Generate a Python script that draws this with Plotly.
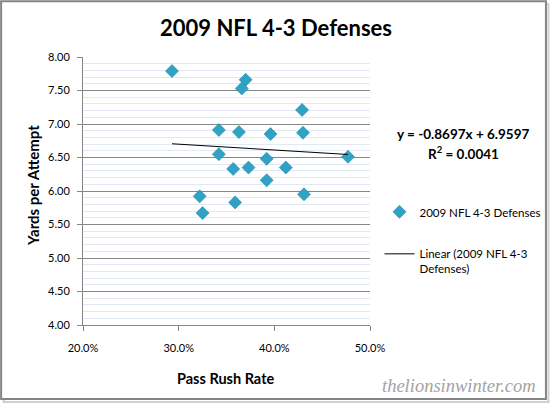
import plotly.graph_objects as go

# Data
pass_rush_rate = [0.293, 0.370, 0.366, 0.429, 0.342, 0.363, 0.396, 0.430, 0.477, 0.342,
                  0.357, 0.373, 0.392, 0.412, 0.392, 0.431, 0.322, 0.325, 0.359]
yards_per_attempt = [7.79, 7.66, 7.53, 7.21, 6.91, 6.88, 6.85, 6.87, 6.51, 6.55,
                     6.33, 6.35, 6.48, 6.35, 6.16, 5.95, 5.92, 5.67, 5.83]
trend_slope = -0.8697
trend_intercept = 6.9597
r_squared = 0.0041
x_tickvals = [0.2, 0.3, 0.4, 0.5]
y_tickvals = [4.0, 4.5, 5.0, 5.5, 6.0, 6.5, 7.0, 7.5, 8.0]

FONT = "Lato"
W, H = 550, 404
L, R, T, B = 83.4, 179.5, 57.3, 79.0
PW, PH = W - L - R, H - T - B

def px_x(p):
    return (p - L) / PW

def px_y(p):
    return (H - B - p) / PH

trend_x = [min(pass_rush_rate), max(pass_rush_rate)]
trend_y = [trend_slope * v + trend_intercept for v in trend_x]

fig = go.Figure()
fig.add_trace(go.Scatter(
    x=pass_rush_rate, y=yards_per_attempt, mode="markers",
    name="2009 NFL 4-3 Defenses", legendgroup="a",
    marker=dict(symbol="diamond", size=10, color="#2fa3c5",
                line=dict(width=0.6, color="#2785a6")),
))
fig.add_trace(go.Scatter(
    x=trend_x, y=trend_y, mode="lines",
    name="Linear (2009 NFL 4-3<br>Defenses)", legendgroup="b",
    line=dict(color="black", width=1),
))

axis_common = dict(
    showline=True, linecolor="#868686", linewidth=1,
    ticks="outside", ticklen=5, tickcolor="#868686",
    tickfont=dict(family=FONT, size=11, color="black"),
    zeroline=False,
)
fig.update_xaxes(range=[0.2, 0.5], tickvals=x_tickvals, tickformat=".1%",
                 showgrid=False, ticklabelstandoff=8, **axis_common)
fig.update_yaxes(range=[4.0, 8.0], tickvals=y_tickvals, tickformat=".2f",
                 showgrid=True, gridcolor="#878787", gridwidth=1,
                 ticklabelstandoff=5,
                 minor=dict(dtick=0.1, showgrid=True, gridcolor="#e2e8f4", gridwidth=1),
                 **axis_common)

annotations = [
    dict(text="<b>2009 NFL 4-3 Defenses</b>", x=px_x(276), y=px_y(27.5), xref="paper", yref="paper",
         showarrow=False, font=dict(family=FONT, size=22, color="black"), xanchor="center", yanchor="middle"),
    dict(text="<b>Yards per Attempt</b>", x=px_x(33.5), y=px_y(186), xref="paper", yref="paper",
         showarrow=False, textangle=-90, font=dict(family=FONT, size=15, color="black"),
         xanchor="center", yanchor="middle"),
    dict(text="<b>Pass Rush Rate</b>", x=px_x(226), y=px_y(378), xref="paper", yref="paper",
         showarrow=False, font=dict(family=FONT, size=14.5, color="black"),
         xanchor="center", yanchor="middle"),
    dict(text=f"<b>y = {trend_slope}x + {trend_intercept}</b>", x=px_x(464.5), y=px_y(134),
         xref="paper", yref="paper", showarrow=False,
         font=dict(family=FONT, size=13.5, color="black"), xanchor="center", yanchor="middle"),
    dict(text=f"<b>R<sup>2</sup> = {r_squared:.4f}</b>", x=px_x(464.5), y=px_y(153),
         xref="paper", yref="paper", showarrow=False,
         font=dict(family=FONT, size=13.5, color="black"), xanchor="center", yanchor="middle"),
    dict(text="<i>thelionsinwinter.com</i>", x=px_x(539), y=px_y(386), xref="paper", yref="paper",
         showarrow=False, font=dict(family="Liberation Serif", size=18.5, color="#a3a3a3"),
         xanchor="right", yanchor="middle"),
]

shapes = [
    dict(type="rect", xref="paper", yref="paper", x0=px_x(4), x1=px_x(549), y0=px_y(402), y1=px_y(4),
         line=dict(color="#d0d0d0", width=2), layer="below"),
    dict(type="rect", xref="paper", yref="paper", x0=px_x(1.5), x1=px_x(546.5), y0=px_y(399), y1=px_y(1.5),
         line=dict(color="#858585", width=2), fillcolor="white", layer="below"),
]

fig.update_layout(
    width=W, height=H,
    margin=dict(l=L, r=R, t=T, b=B, autoexpand=False),
    paper_bgcolor="white", plot_bgcolor="rgba(0,0,0,0)",
    showlegend=True,
    legend=dict(x=px_x(380), y=px_y(198), xanchor="left", yanchor="top",
                font=dict(family=FONT, size=11.5, color="black"),
                tracegroupgap=23, valign="top", itemwidth=30,
                bgcolor="rgba(0,0,0,0)"),
    annotations=annotations,
    shapes=shapes,
)

fig.write_html("out.html")
